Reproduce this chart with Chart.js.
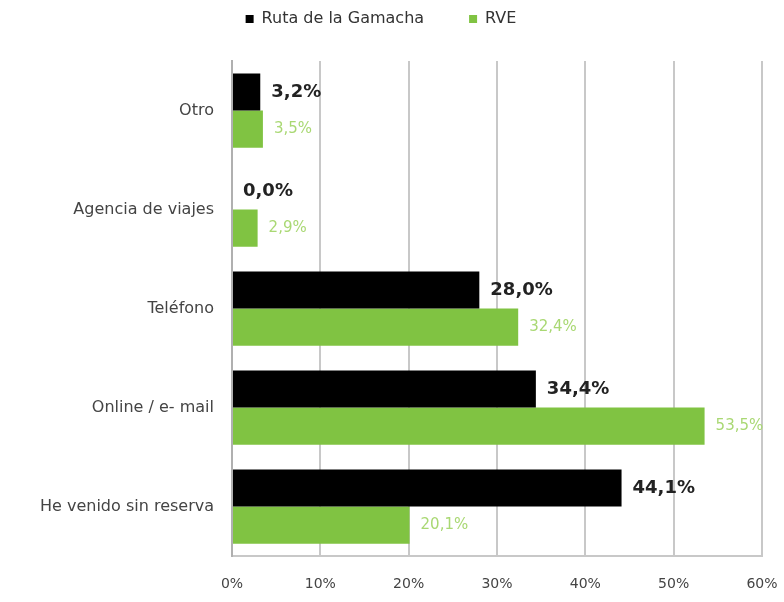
<!DOCTYPE html>
<html lang="es">
<head>
  <meta charset="UTF-8">
  <title>Forma de reserva</title>
  <style>
    body { margin: 0; background: white; }
    #wrap { width: 784px; height: 602px; }
  </style>
</head>
<body>
  <div id="wrap"><canvas id="chart" width="784" height="602"></canvas></div>

  <script src="https://cdn.jsdelivr.net/npm/chart.js"></script>
  <script>
    // categorias y series
    const categorias = ['Otro', 'Agencia de viajes', 'Teléfono', 'Online / e- mail', 'He venido sin reserva'];
    const rutaGamacha = [3.2, 0.0, 28.0, 34.4, 44.1];
    const rve = [3.5, 2.9, 32.4, 53.5, 20.1];
    const ticksX = [0, 10, 20, 30, 40, 50, 60];

    const NEGRO = '#000000';
    const VERDE = '#80c342';
    const VERDE_TXT = '#a9d873';
    const FUENTE = "'DejaVu Sans', sans-serif";

    // pinta el valor al final de cada barra
    const etiquetas = {
      id: 'etiquetas',
      afterDatasetsDraw(chart) {
        const ctx = chart.ctx;
        ctx.save();
        ctx.textBaseline = 'middle';
        ctx.textAlign = 'left';
        chart.data.datasets.forEach((ds, i) => {
          const meta = chart.getDatasetMeta(i);
          meta.data.forEach((bar, j) => {
            const txt = ds.data[j].toFixed(1).replace('.', ',') + '%';
            if (i === 0) {
              ctx.font = 'bold 18px ' + FUENTE;
              ctx.fillStyle = '#222';
            } else {
              ctx.font = '15px ' + FUENTE;
              ctx.fillStyle = VERDE_TXT;
            }
            ctx.fillText(txt, bar.x + 11, bar.y);
          });
        });
        ctx.restore();
      }
    };

    // leyenda: altura fija y subida a la parte de arriba
    const LEYENDA_ALTO = 61;
    const LEYENDA_PAD = 45;
    const colocarLeyenda = {
      id: 'colocarLeyenda',
      beforeInit(chart) {
        const fit = chart.legend.fit;
        chart.legend.fit = function () {
          fit.call(this);
          this.height = LEYENDA_ALTO;
        };
      },
      beforeDraw(chart) {
        chart.legend.top = 19 - LEYENDA_PAD - 8;
      }
    };

    new Chart(document.getElementById('chart'), {
      type: 'bar',
      data: {
        labels: categorias,
        datasets: [
          { label: 'Ruta de la Gamacha', data: rutaGamacha, backgroundColor: NEGRO },
          { label: 'RVE', data: rve, backgroundColor: VERDE }
        ]
      },
      options: {
        indexAxis: 'y',
        responsive: false,
        animation: false,
        layout: { padding: { top: 0, right: 22, bottom: 0, left: 0 } },
        datasets: { bar: { categoryPercentage: 0.75, barPercentage: 1 } },
        plugins: {
          tooltip: { enabled: false },
          legend: {
            position: 'top',
            labels: {
              boxWidth: 8, boxHeight: 8, padding: LEYENDA_PAD,
              color: '#333',
              font: { family: FUENTE, size: 16 }
            }
          }
        },
        scales: {
          x: {
            min: 0, max: 60,
            afterBuildTicks(scale) { scale.ticks = ticksX.map(v => ({ value: v })); },
            afterFit(scale) {
              scale.height = 46;
              scale.paddingLeft = 0;
              scale.paddingRight = 0;
            },
            grid: { color: '#c8c8c8', lineWidth: 2, drawTicks: false },
            border: { display: true, color: '#c8c8c8', width: 2 },
            ticks: {
              padding: 20,
              color: '#444',
              font: { family: FUENTE, size: 14 },
              callback: v => v + '%'
            }
          },
          y: {
            afterFit(scale) { scale.width = 232; },
            grid: { display: false, drawTicks: false },
            border: { display: true, color: '#b0b0b0', width: 2 },
            ticks: {
              padding: 18,
              color: '#444',
              font: { family: FUENTE, size: 16 }
            }
          }
        }
      },
      plugins: [etiquetas, colocarLeyenda]
    });
  </script>
</body>
</html>
